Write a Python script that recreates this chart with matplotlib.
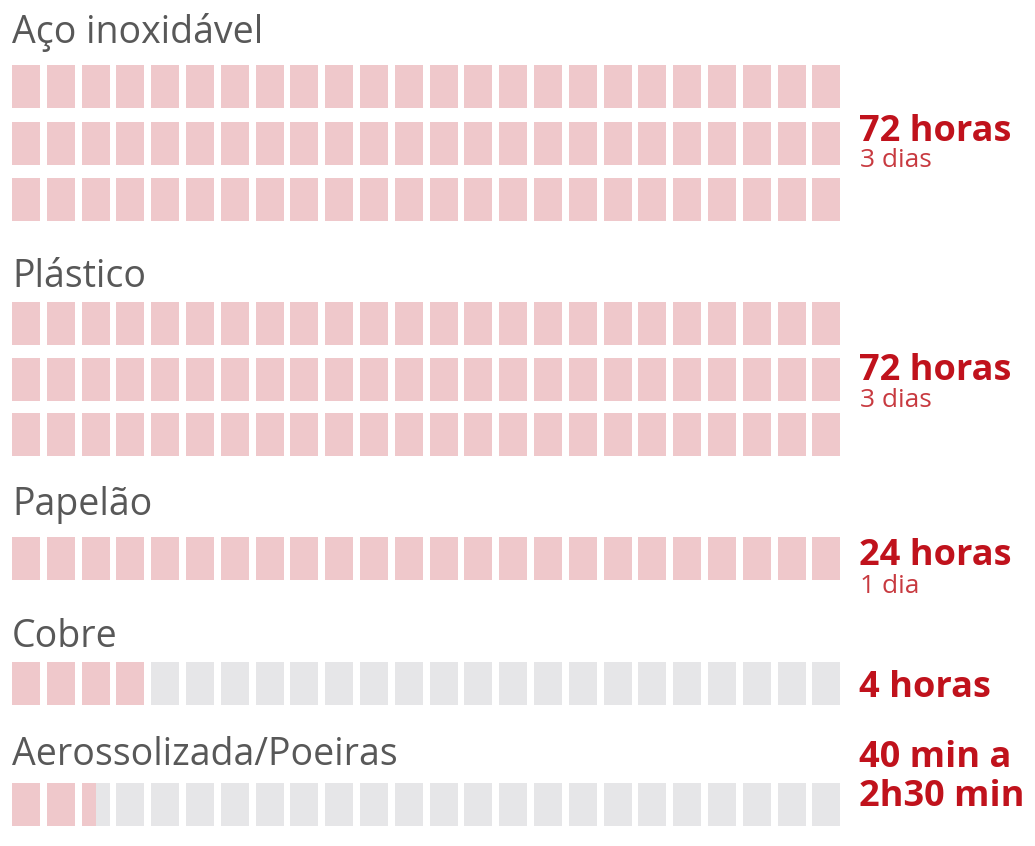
import matplotlib
matplotlib.use("Agg")
import matplotlib.pyplot as plt
import numpy as np

# ---- data ----
materials = ["Aço inoxidável", "Plástico", "Papelão", "Cobre", "Aerossolizada/Poeiras"]
hours = [72, 72, 24, 4, 2.5]
main_labels = ["72 horas", "72 horas", "24 horas", "4 horas", "40 min a\n2h30 min"]
sub_labels = ["3 dias", "3 dias", "1 dia", "", ""]
hours_per_row = 24

# ---- layout (pixels) ----
W, H = 1035, 846
row_tops = [[65, 122, 178], [302, 358, 413], [537], [662], [783]]
label_baselines = [43, 287, 515, 647, 765]
main_baselines = [141, 380, 565, 697, 806]
sub_baselines = [167, 407, 593, None, None]
cell_x0, cell_pitch, cell_w, cell_h = 12, 34.8, 28, 43
text_x = 859

PINK = "#efc8cb"
GREY = "#e6e6e8"
RED = "#c0121c"
SUBRED = "#c83a40"
LABEL = "#585858"

plt.rcParams['font.family'] = ['Open Sans', 'DejaVu Sans']

fig = plt.figure(figsize=(W / 100, H / 100), dpi=100)
ax = fig.add_axes([0, 0, 1, 1])
ax.set_xlim(0, W)
ax.set_ylim(H, 0)
ax.axis("off")

cols = np.arange(hours_per_row)
for g, (name, h) in enumerate(zip(materials, hours)):
    for r, top in enumerate(row_tops[g]):
        xs = cell_x0 + cols * cell_pitch
        # background cells
        ax.bar(xs, [cell_h] * hours_per_row, width=cell_w, bottom=top,
               align="edge", color=GREY, linewidth=0)
        # filled fraction per cell
        frac = np.clip(h - r * hours_per_row - cols, 0, 1)
        for c in cols:
            if frac[c] > 0:
                ax.bar(xs[c], cell_h, width=cell_w * frac[c],
                       bottom=top, align="edge", color=PINK, linewidth=0)
    ax.text(12, label_baselines[g], name, fontsize=27, color=LABEL,
            va="baseline", ha="left")
    ax.text(text_x, main_baselines[g], main_labels[g], fontsize=26,
            fontweight="bold", color=RED, va="baseline", ha="left",
            linespacing=1.1)
    if sub_labels[g]:
        ax.text(text_x + 1, sub_baselines[g], sub_labels[g], fontsize=19,
                color=SUBRED, va="baseline", ha="left")

fig.savefig("out.png", dpi=100, facecolor="white")
